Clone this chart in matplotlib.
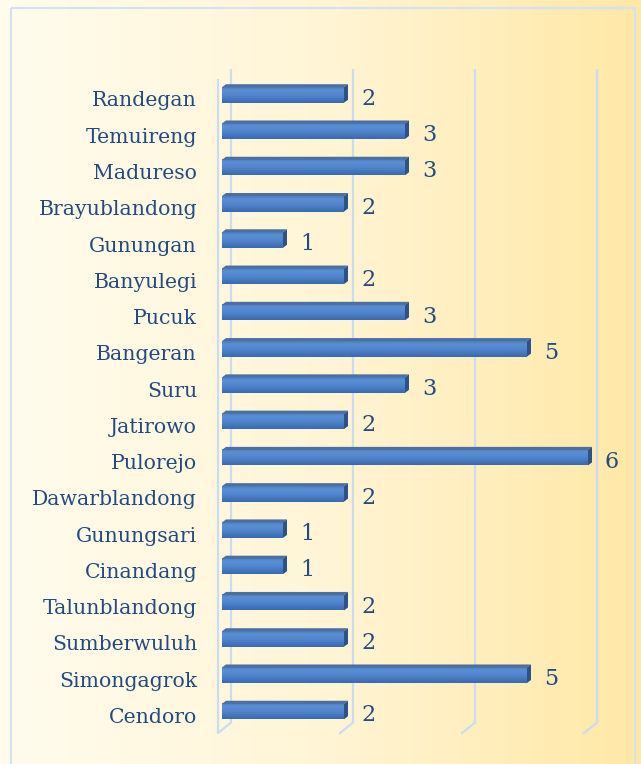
import matplotlib
matplotlib.use("Agg")
import matplotlib.pyplot as plt
import matplotlib.transforms as mtransforms
from matplotlib.colors import LinearSegmentedColormap
from matplotlib.patches import Polygon, Rectangle
import numpy as np

# Data, listed top to bottom as in the chart
villages = ["Randegan", "Temuireng", "Madureso", "Brayublandong", "Gunungan",
            "Banyulegi", "Pucuk", "Bangeran", "Suru", "Jatirowo", "Pulorejo",
            "Dawarblandong", "Gunungsari", "Cinandang", "Talunblandong",
            "Sumberwuluh", "Simongagrok", "Cendoro"]
counts = [2, 3, 3, 2, 1, 2, 3, 5, 3, 2, 6, 2, 1, 1, 2, 2, 5, 2]
x_ticks = [0, 2, 4, 6]

TEXT = "#244A7E"
GRID = "#CCDCEF"
FONT = "DejaVu Serif"
FS = 14.7       # category labels
FS_VAL = 16.0   # value labels

W, H, DPI = 641, 764, 100
fig = plt.figure(figsize=(W / DPI, H / DPI), dpi=DPI)

# background gradient + frame (pixel coordinates)
bg = fig.add_axes([0, 0, 1, 1])
bg.set_xlim(0, W)
bg.set_ylim(H, 0)
bg.axis("off")
bg_cmap = LinearSegmentedColormap.from_list(
    "bg", [(0, "#FFFCEE"), (0.5, "#FFF5D6"), (1, "#FFE8A6")])
bg.imshow(np.linspace(0, 1, 256)[None, :], cmap=bg_cmap, aspect="auto",
          extent=(0, W, H, 0), zorder=0)
bg.add_patch(Rectangle((10.5, 8), 624.5, H + 20, fill=False,
                       edgecolor="#D3E1F1", lw=1.6, zorder=1))

# main plot area: x=0 is the front face start of the bars
n = len(villages)
ax = fig.add_axes([222 / W, 31 / H, 366 / W, 654 / H])
ax.set_xlim(0, 6)
ax.set_ylim(-0.593, n - 1 + 0.44)
ax.axis("off")
ax.patch.set_alpha(0)

def shift(dx, dy, base=None):
    base = ax.transData if base is None else base
    return base + mtransforms.ScaledTranslation(dx / DPI, dy / DPI, fig.dpi_scale_trans)

# 3D walls: front plane offset (-4, 0), back plane offset (+8.5, +10) px
xa = ax.get_xaxis_transform()
for v in x_ticks:
    ax.plot([v, v], [0, 1], color=GRID, lw=1.6, transform=shift(8.5, 10, xa),
            clip_on=False, zorder=1, solid_capstyle="butt")
    p0 = shift(-4, 0, xa).transform((v, 0))
    p1 = shift(8.5, 10, xa).transform((v, 0))
    fig.add_artist(plt.Line2D([p0[0] / W, p1[0] / W], [p0[1] / H, p1[1] / H],
                              color=GRID, lw=1.6, transform=fig.transFigure))
ax.plot([0, 0], [0, 1], color=GRID, lw=1.6, transform=shift(-4, 0, xa),
        clip_on=False, zorder=1, solid_capstyle="butt")

# bars
px_x = ax.bbox.width / 6.0
px_y = ax.bbox.height / (ax.get_ylim()[1] - ax.get_ylim()[0])
ddx, ddy = 4 / px_x, 3 / px_y
bh = 15.5 / px_y
face_cmap = LinearSegmentedColormap.from_list(
    "face", [(0, "#3A69AE"), (0.45, "#4F84CC"), (0.8, "#5B8FD4"), (1, "#4C7DC0")])

for i, (name, v) in enumerate(zip(villages, counts)):
    y = n - 1 - i
    yb, yt = y - bh / 2, y + bh / 2
    ax.imshow(np.linspace(0, 1, 64)[:, None], cmap=face_cmap, origin="lower",
              extent=(0, v, yb, yt), aspect="auto", zorder=3, clip_on=False)
    ax.add_patch(Polygon([(0, yt), (v, yt), (v + ddx, yt + ddy), (ddx, yt + ddy)],
                         closed=True, facecolor="#4C6F9F", edgecolor="none",
                         zorder=3, clip_on=False))
    ax.add_patch(Polygon([(v, yb), (v, yt), (v + ddx, yt + ddy), (v + ddx, yb + ddy)],
                         closed=True, facecolor="#2F5286", edgecolor="none",
                         zorder=3, clip_on=False))
    ax.text(0, y, name, transform=shift(-25, -11.5), ha="right", va="baseline",
            fontsize=FS, color=TEXT, family=FONT)
    ax.text(v, y, str(v), transform=shift(17, -10), ha="left", va="baseline",
            fontsize=FS_VAL, color=TEXT, family=FONT)

ax.set_xlim(0, 6)
ax.set_ylim(-0.593, n - 1 + 0.44)

fig.savefig("out.png", dpi=DPI)
